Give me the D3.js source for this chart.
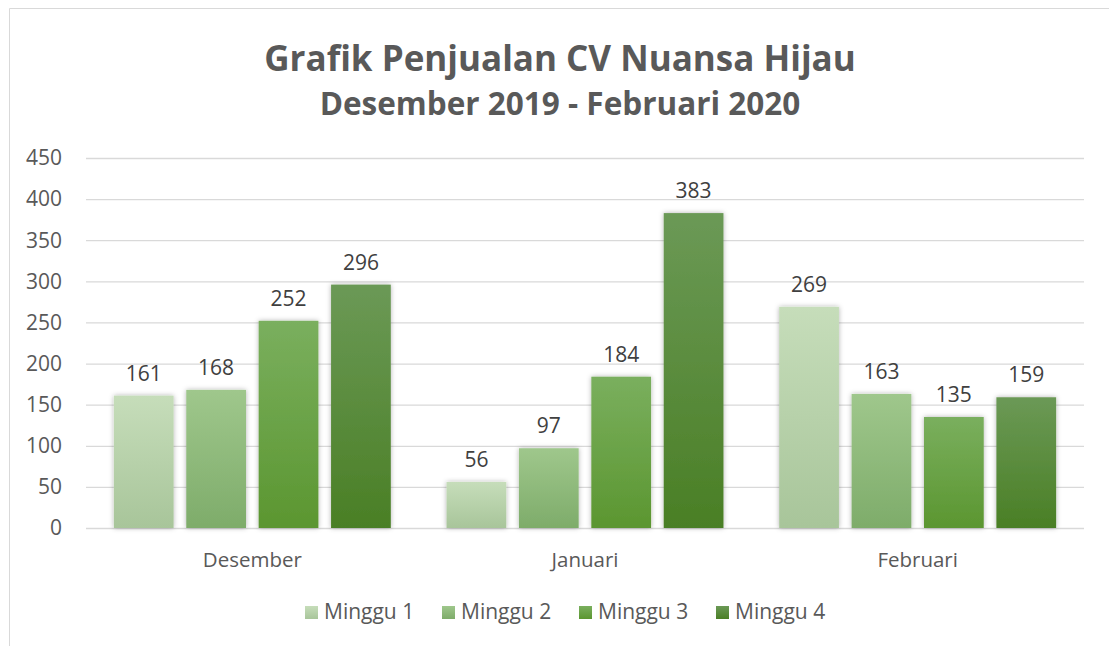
<!DOCTYPE html>
<html>
<head>
<meta charset="utf-8">
<script src="https://cdn.jsdelivr.net/npm/d3@7"></script>
<style>
  body { margin: 0; background: #fff; }
  svg { display: block; font-family: "Open Sans", Lato, sans-serif; }
</style>
</head>
<body>
<div id="chart"></div>
<script>
// data
const months = ["Desember", "Januari", "Februari"];
const seriesNames = ["Minggu 1", "Minggu 2", "Minggu 3", "Minggu 4"];
const minggu1 = [161, 56, 269];
const minggu2 = [168, 97, 163];
const minggu3 = [252, 184, 135];
const minggu4 = [296, 383, 159];
const yTicks = [0, 50, 100, 150, 200, 250, 300, 350, 400, 450];

const seriesValues = [minggu1, minggu2, minggu3, minggu4];
const gradColors = [
    ["#c6ddba", "#a8c59a"],
    ["#9fc78c", "#7eac6a"],
    ["#7aaf5e", "#5b9630"],
    ["#6b9956", "#4a7f25"]
];

const W = 1109, H = 646;
const margin = {top: 158, right: 25, bottom: 118, left: 86};
const width = W - margin.left - margin.right;
const height = H - margin.top - margin.bottom;

const svg = d3.select("#chart").append("svg")
    .attr("width", W)
    .attr("height", H);

// outer chart border (cut off on right / bottom)
svg.append("path")
    .attr("d", `M9.5,${H} L9.5,8.5 L${W},8.5`)
    .attr("fill", "none")
    .attr("stroke", "#d9d9d9")
    .attr("stroke-width", 1);

const defs = svg.append("defs");
gradColors.forEach((c, i) => {
    const g = defs.append("linearGradient")
        .attr("id", "grad" + i)
        .attr("x1", 0).attr("y1", 0).attr("x2", 0).attr("y2", 1);
    g.append("stop").attr("offset", "0%").attr("stop-color", c[0]);
    g.append("stop").attr("offset", "100%").attr("stop-color", c[1]);
});
const shadow = defs.append("filter").attr("id", "shadow")
    .attr("x", "-20%").attr("y", "-10%").attr("width", "140%").attr("height", "120%");
shadow.append("feDropShadow")
    .attr("dx", 0).attr("dy", 0).attr("stdDeviation", 2.5)
    .attr("flood-color", "#000").attr("flood-opacity", 0.3);

// titles
svg.append("text")
    .attr("x", 560).attr("y", 71)
    .attr("text-anchor", "middle")
    .style("font-size", "35px").style("font-weight", "bold")
    .style("fill", "#595959")
    .text("Grafik Penjualan CV Nuansa Hijau");
svg.append("text")
    .attr("x", 560).attr("y", 115)
    .attr("text-anchor", "middle")
    .style("font-size", "31.5px").style("font-weight", "bold")
    .style("fill", "#595959")
    .text("Desember 2019 - Februari 2020");

const g = svg.append("g")
    .attr("transform", `translate(${margin.left},${margin.top})`);

const x0 = d3.scaleBand().domain(months).range([0, width]).paddingInner(0).paddingOuter(0);
const x1 = d3.scaleBand().domain(seriesNames)
    .range([0, x0.bandwidth()]).paddingInner(0.175).paddingOuter(0.385);
const y = d3.scaleLinear().domain([0, 450]).range([height, 0]);

// gridlines
g.append("g")
    .selectAll("line")
    .data(yTicks)
    .join("line")
    .attr("x1", 0).attr("x2", width)
    .attr("y1", d => y(d) + 0.5).attr("y2", d => y(d) + 0.5)
    .attr("stroke", "#d9d9d9").attr("stroke-width", 1.3);

// y tick labels
g.append("g")
    .selectAll("text")
    .data(yTicks)
    .join("text")
    .attr("x", -24).attr("y", d => y(d))
    .attr("dy", "0.35em")
    .attr("text-anchor", "end")
    .style("font-size", "21px").style("fill", "#595959")
    .text(d => d);

// bars
const groups = g.selectAll(".month")
    .data(months)
    .join("g")
    .attr("class", "month")
    .attr("transform", d => `translate(${x0(d)},0)`);

groups.selectAll("rect")
    .data((m, mi) => seriesNames.map((s, si) => ({s, si, v: seriesValues[si][mi]})))
    .join("rect")
    .attr("x", d => x1(d.s))
    .attr("y", d => y(d.v))
    .attr("width", x1.bandwidth())
    .attr("height", d => height - y(d.v))
    .attr("fill", d => `url(#grad${d.si})`)
    .attr("filter", "url(#shadow)");

groups.selectAll(".lbl")
    .data((m, mi) => seriesNames.map((s, si) => ({s, si, v: seriesValues[si][mi]})))
    .join("text")
    .attr("class", "lbl")
    .attr("x", d => x1(d.s) + x1.bandwidth() / 2)
    .attr("y", d => y(d.v) - 15)
    .attr("text-anchor", "middle")
    .style("font-size", "21px").style("fill", "#404040")
    .text(d => d.v);

// category labels
g.append("g")
    .selectAll("text")
    .data(months)
    .join("text")
    .attr("x", d => x0(d) + x0.bandwidth() / 2)
    .attr("y", height + 39)
    .attr("text-anchor", "middle")
    .style("font-size", "20.5px").style("fill", "#595959")
    .text(d => d);

// legend
const legendX = [305, 442, 579, 716];
const legend = svg.append("g");
seriesNames.forEach((s, i) => {
    legend.append("rect")
        .attr("x", legendX[i]).attr("y", 606)
        .attr("width", 13).attr("height", 13)
        .attr("fill", `url(#grad${i})`);
    legend.append("text")
        .attr("x", legendX[i] + 19).attr("y", 619)
        .style("font-size", "21px").style("fill", "#595959")
        .text(s);
});
</script>
</body>
</html>
